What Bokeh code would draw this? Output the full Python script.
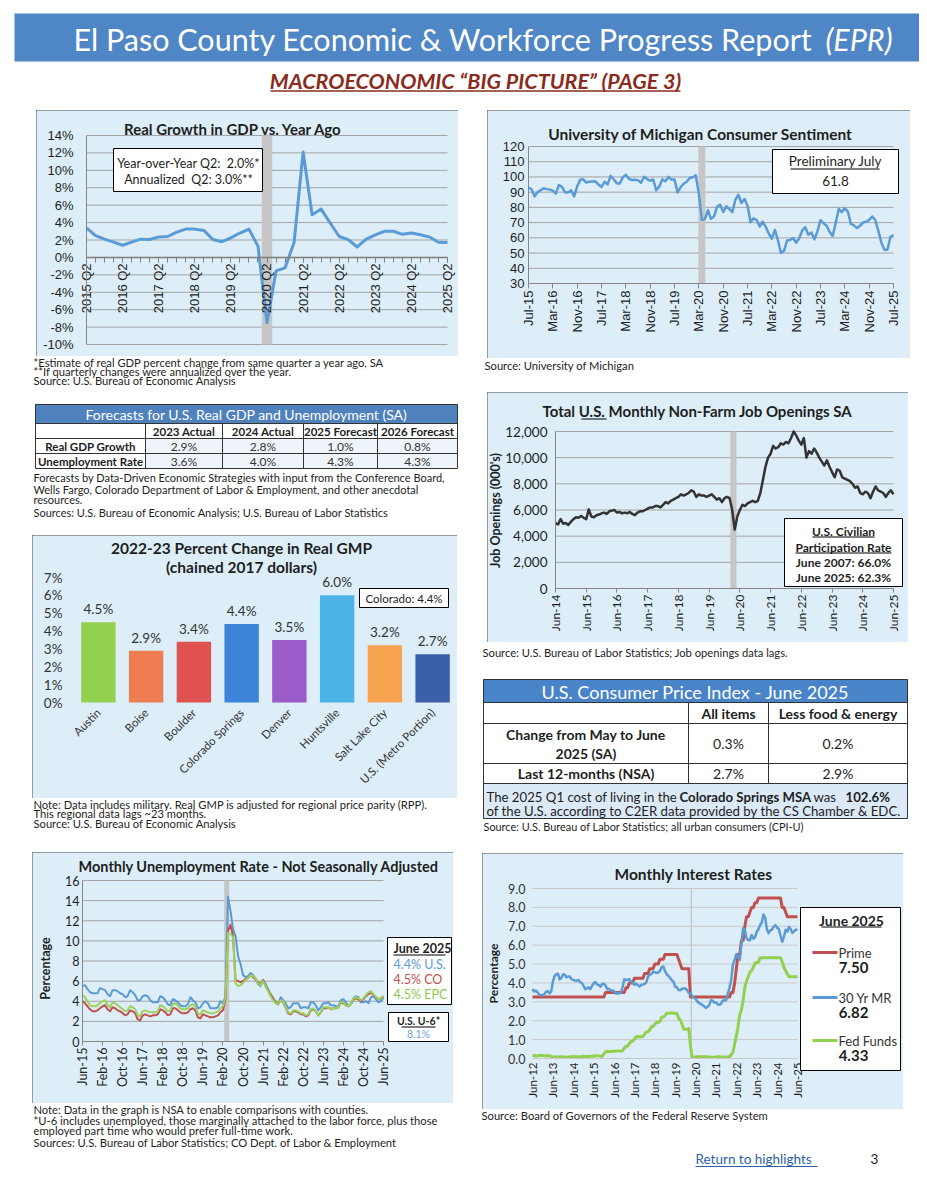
import math
from bokeh.plotting import figure
from bokeh.models import (Range1d, FixedTicker, Label, BoxAnnotation,
                          Spacer, PrintfTickFormatter, NumeralTickFormatter)
from bokeh.layouts import row, column
from bokeh.core.properties import value
from bokeh.embed import file_html
from bokeh.resources import INLINE

# ======================= DATA =======================
MON = ["Jan", "Feb", "Mar", "Apr", "May", "Jun", "Jul", "Aug", "Sep", "Oct", "Nov", "Dec"]


def month_labels(y0, m0, y1, m1):
    out = []
    y, m = y0, m0
    while (y, m) <= (y1, m1):
        out.append(f"{MON[m - 1]}-{y % 100:02d}")
        m += 1
        if m > 12:
            m, y = 1, y + 1
    return out


# --- Real GDP growth vs year ago (quarterly) ---
gdp_quarters = [f"{y} Q{q}" for y in range(2015, 2026) for q in (1, 2, 3, 4)][1:42]
gdp_yoy = [3.4, 2.5, 2.1, 1.75, 1.4, 1.75, 2.1, 2.05, 2.35, 2.4, 2.9, 3.25, 3.25, 3.1,
           2.05, 1.8, 2.25, 2.8, 3.25, 1.3, -7.5, -1.55, -1.2, 1.7, 12.1, 4.9, 5.55,
           3.95, 2.4, 2.05, 1.2, 2.1, 2.6, 3.0, 3.0, 2.65, 2.8, 2.6, 2.35, 1.75, 1.7]
gdp_tick_labels = ["2015 Q2", "2016 Q2", "2017 Q2", "2018 Q2", "2019 Q2", "2020 Q2",
                   "2021 Q2", "2022 Q2", "2023 Q2", "2024 Q2", "2025 Q2"]
gdp_y_ticks = [-10, -8, -6, -4, -2, 0, 2, 4, 6, 8, 10, 12, 14]
gdp_recession = "2020 Q2"
gdp_box_lines = ["Year-over-Year Q2:\u00a0 2.0%*", "Annualized\u00a0 Q2: 3.0%**"]
gdp_notes = ["*Estimate of real GDP percent change from same quarter a year ago, SA",
             "**If quarterly changes were annualized over the year.",
             "Source: U.S. Bureau of Economic Analysis"]

# --- University of Michigan consumer sentiment (monthly) ---
sent_months = month_labels(2015, 7, 2025, 7)
sent_vals = [93.1, 91.9, 87.2, 90.0, 91.3, 92.6,
             92.0, 91.7, 91.0, 89.0, 94.7, 93.5, 90.0, 89.8, 91.2, 87.2, 93.8, 98.2,
             98.5, 96.3, 96.9, 97.0, 97.1, 95.0, 93.4, 96.8, 95.1, 100.7, 98.5, 95.9,
             95.7, 99.7, 101.4, 98.8, 98.0, 98.2, 97.9, 96.2, 100.1, 98.6, 97.5, 98.3,
             91.2, 93.8, 98.4, 97.2, 100.0, 98.2, 98.4, 89.8, 93.2, 95.5, 96.8, 99.3,
             99.8, 101.0, 89.1, 71.8, 72.3, 78.1, 72.5, 74.1, 80.4, 81.8, 76.9, 80.7,
             79.0, 76.8, 84.9, 88.3, 82.9, 85.5, 81.2, 70.3, 72.8, 71.7, 67.4, 70.6,
             67.2, 62.8, 59.4, 65.2, 58.4, 50.0, 51.5, 58.2, 58.6, 59.9, 56.8, 59.7,
             64.9, 67.0, 62.0, 63.5, 59.0, 64.2, 71.6, 69.5, 67.9, 63.8, 61.3, 69.7,
             79.0, 76.9, 79.4, 77.2, 69.1, 68.2, 66.4, 67.9, 70.1, 70.5, 71.8, 74.0,
             71.7, 64.7, 57.0, 52.2, 52.2, 60.7, 61.8]
sent_tick_labels = ["Jul-15", "Mar-16", "Nov-16", "Jul-17", "Mar-18", "Nov-18", "Jul-19",
                    "Mar-20", "Nov-20", "Jul-21", "Mar-22", "Nov-22", "Jul-23", "Mar-24",
                    "Nov-24", "Jul-25"]
sent_y_ticks = [30, 40, 50, 60, 70, 80, 90, 100, 110, 120]
sent_recession = "Apr-20"
sent_box = ["Preliminary July", "61.8"]
sent_source = "Source: University of Michigan"

# --- Forecast table ---
fc_title = "Forecasts for U.S. Real GDP and Unemployment (SA)"
fc_cols = ["2023 Actual", "2024 Actual", "2025 Forecast", "2026 Forecast"]
fc_rows = ["Real GDP Growth", "Unemployment Rate"]
fc_gdp = ["2.9%", "2.8%", "1.0%", "0.8%"]
fc_unemp = ["3.6%", "4.0%", "4.3%", "4.3%"]
fc_notes = ["Forecasts by Data-Driven Economic Strategies with input from the Conference Board,",
            "Wells Fargo, Colorado Department of Labor & Employment, and other anecdotal",
            "resources.",
            "Sources: U.S. Bureau of Economic Analysis; U.S. Bureau of Labor Statistics"]

# --- Job openings (monthly, thousands) ---
job_months = month_labels(2014, 6, 2025, 6)
job_vals = [5000, 4900, 5300, 4950, 5000, 4850, 5100,
            5300, 5450, 5400, 5550, 5400, 5300, 6050, 5500, 5450, 5600, 5650, 5750,
            5800, 5700, 5900, 5950, 6000, 5800, 5850, 5750, 5800, 5750, 5850, 5700,
            5600, 5800, 5900, 5900, 6000, 6100, 6200, 6200, 6300, 6300, 6200, 6400,
            6600, 6500, 6700, 6800, 6900, 7000, 7200, 7100, 7200, 7300, 7500, 7400,
            7000, 7200, 7100, 7100, 7000, 7100, 7200, 7000, 6800, 6900, 6600, 6900,
            7000, 6900, 6000, 4500, 5500, 6000, 6400, 6300, 6500, 6600, 6700, 6600,
            6700, 7300, 8300, 9300, 10000, 10300, 10900, 10700, 10800, 11100, 11000, 11200,
            11100, 11500, 12000, 11700, 11300, 11000, 11500, 10000, 10500, 10300, 10700, 10400,
            10000, 9700, 9400, 9800, 9300, 8900, 8500, 9100, 9000, 8500, 8400, 8300,
            8200, 8000, 7700, 7800, 7300, 7200, 7400, 7300, 6900, 7400, 7800, 7500,
            7400, 7300, 7000, 7300, 7500, 7200]
job_tick_labels = ["Jun-14", "Jun-15", "Jun-16", "Jun-17", "Jun-18", "Jun-19", "Jun-20",
                   "Jun-21", "Jun-22", "Jun-23", "Jun-24", "Jun-25"]
job_y_ticks = [0, 2000, 4000, 6000, 8000, 10000, 12000]
job_recession = "Apr-20"
job_box = ["U.S. Civilian", "Participation Rate", "June 2007: 66.0%", "June 2025: 62.3%"]
job_source = "Source: U.S. Bureau of Labor Statistics; Job openings data lags."

# --- GMP bars ---
gmp_cities = ["Austin", "Boise", "Boulder", "Colorado Springs", "Denver", "Huntsville",
              "Salt Lake City", "U.S. (Metro Portion)"]
gmp_vals = [4.5, 2.9, 3.4, 4.4, 3.5, 6.0, 3.2, 2.7]
gmp_colors = ["#92d050", "#ee7d52", "#e0524f", "#3c84d8", "#9a5cc8", "#4bb3e6",
              "#f6a24e", "#3b5ea8"]
gmp_y_ticks = [0, 1, 2, 3, 4, 5, 6, 7]
gmp_box = "Colorado: 4.4%"
gmp_notes = ["Note: Data includes military. Real GMP is adjusted for regional price parity (RPP).",
             "This regional data lags ~23 months.",
             "Source: U.S. Bureau of Economic Analysis"]

# --- CPI table ---
cpi_title = "U.S. Consumer Price Index - June 2025"
cpi_cols = ["All items", "Less food & energy"]
cpi_rows = [["Change from May to June", "2025 (SA)"], ["Last 12-months (NSA)"]]
cpi_mom = ["0.3%", "0.2%"]
cpi_yoy = ["2.7%", "2.9%"]
cpi_note1 = ["The 2025 Q1 cost of living in the ", "Colorado Springs MSA", " was ", "102.6%"]
cpi_note2 = "of the U.S. according to C2ER data provided by the CS Chamber & EDC."
cpi_source = "Source: U.S. Bureau of Labor Statistics; all urban consumers (CPI-U)"

# --- Unemployment (monthly NSA) ---
un_months = month_labels(2015, 6, 2025, 6)
un_us = [5.5, 5.6, 5.2, 4.9, 4.8, 4.8, 4.8,
         5.3, 5.2, 5.1, 4.7, 4.5, 5.1, 5.1, 5.0, 4.8, 4.7, 4.4, 4.5,
         5.1, 4.9, 4.6, 4.1, 4.1, 4.5, 4.6, 4.5, 4.1, 3.9, 3.9, 3.9,
         4.5, 4.4, 4.1, 3.7, 3.6, 4.2, 4.1, 3.9, 3.6, 3.5, 3.5, 3.7,
         4.4, 4.1, 3.9, 3.3, 3.4, 3.8, 4.0, 3.8, 3.3, 3.3, 3.3, 3.4,
         4.0, 3.8, 4.5, 14.4, 13.0, 11.2, 10.5, 8.5, 7.7, 6.6, 6.4, 6.5,
         6.8, 6.6, 6.2, 5.7, 5.5, 6.1, 5.7, 5.2, 4.6, 4.3, 3.9, 3.7,
         4.4, 4.1, 3.8, 3.3, 3.4, 3.8, 3.8, 3.8, 3.3, 3.4, 3.4, 3.3,
         3.9, 3.9, 3.6, 3.1, 3.4, 3.8, 3.8, 3.9, 3.6, 3.6, 3.5, 3.5,
         4.1, 4.2, 3.9, 3.5, 3.7, 4.3, 4.5, 4.4, 3.9, 3.9, 4.0, 3.8,
         4.4, 4.5, 4.2, 3.9, 4.0, 4.4]
un_co = [4.0, 3.8, 3.5, 3.2, 3.0, 3.0, 3.1,
         3.3, 3.5, 3.6, 3.2, 3.0, 3.4, 3.3, 3.1, 3.0, 2.8, 2.6, 2.7,
         3.1, 3.0, 2.8, 2.2, 2.1, 2.6, 2.7, 2.6, 2.5, 2.6, 2.6, 2.7,
         3.2, 3.1, 2.9, 2.6, 2.7, 3.3, 3.3, 3.1, 2.9, 2.8, 2.8, 2.9,
         3.2, 3.3, 3.1, 2.4, 2.3, 2.7, 2.6, 2.5, 2.4, 2.4, 2.5, 2.6,
         2.9, 3.1, 4.2, 11.0, 11.6, 10.5, 6.1, 6.0, 5.9, 6.0, 6.2, 6.3,
         6.6, 6.4, 6.2, 5.9, 5.7, 6.1, 5.5, 5.1, 4.7, 4.3, 3.9, 3.7,
         4.1, 3.9, 3.4, 2.8, 2.7, 3.0, 3.0, 2.9, 2.7, 2.7, 2.5, 2.6,
         3.1, 3.2, 3.0, 2.6, 2.9, 3.3, 3.3, 3.4, 3.2, 3.3, 3.3, 3.4,
         3.9, 3.8, 3.6, 3.5, 3.7, 4.2, 4.3, 4.2, 4.0, 4.2, 4.5, 4.7,
         4.9, 4.6, 4.4, 4.2, 4.3, 4.5]
un_epc = [4.6, 4.4, 4.0, 3.6, 3.5, 3.5, 3.6,
          3.8, 4.0, 4.1, 3.6, 3.4, 3.9, 3.8, 3.6, 3.4, 3.2, 3.0, 3.1,
          3.5, 3.4, 3.2, 2.6, 2.5, 3.0, 3.1, 3.0, 2.9, 2.9, 2.9, 3.0,
          3.6, 3.5, 3.3, 3.0, 3.1, 3.7, 3.8, 3.6, 3.3, 3.2, 3.2, 3.3,
          3.6, 3.7, 3.5, 2.8, 2.7, 3.1, 3.0, 2.9, 2.8, 2.8, 2.9, 3.0,
          3.3, 3.5, 4.4, 10.8, 10.7, 10.4, 5.8, 5.5, 5.6, 5.8, 6.1, 6.3,
          6.6, 6.5, 6.3, 5.8, 5.6, 6.0, 5.5, 5.0, 4.5, 4.1, 3.8, 3.7,
          4.1, 4.0, 3.5, 2.9, 2.8, 3.1, 3.1, 3.0, 2.8, 2.8, 2.6, 2.7,
          3.2, 3.3, 3.0, 2.6, 2.9, 3.4, 3.4, 3.4, 3.2, 3.3, 3.3, 3.4,
          3.9, 3.9, 3.6, 3.5, 3.7, 4.3, 4.4, 4.3, 4.1, 4.3, 4.6, 4.9,
          5.0, 4.7, 4.4, 4.2, 4.3, 4.5]
un_tick_labels = ["Jun-15", "Feb-16", "Oct-16", "Jun-17", "Feb-18", "Oct-18", "Jun-19",
                  "Feb-20", "Oct-20", "Jun-21", "Feb-22", "Oct-22", "Jun-23", "Feb-24",
                  "Oct-24", "Jun-25"]
un_y_ticks = [0, 2, 4, 6, 8, 10, 12, 14, 16]
un_recession = "Apr-20"
un_legend = ["June 2025", "4.4% U.S.", "4.5% CO", "4.5% EPC"]
un_u6 = ["U.S. U-6*", "8.1%"]
un_notes = ["Note: Data in the graph is NSA to enable comparisons with counties.",
            "*U-6 includes unemployed, those marginally attached to the labor force, plus those",
            "employed part time who would prefer full-time work.",
            "Sources: U.S. Bureau of Labor Statistics; CO Dept. of Labor & Employment"]

# --- Interest rates (monthly) ---
rate_months = month_labels(2012, 6, 2025, 6)
rate_prime = ([3.25] * 7 + [3.25] * 12 + [3.25] * 12 + [3.25] * 12 + [3.50] * 12 +
              [3.75, 3.75, 4.00, 4.00, 4.00, 4.25, 4.25, 4.25, 4.25, 4.25, 4.25, 4.50] +
              [4.50, 4.50, 4.75, 4.75, 4.75, 5.00, 5.00, 5.00, 5.25, 5.25, 5.25, 5.50] +
              [5.50, 5.50, 5.50, 5.50, 5.50, 5.50, 5.50, 5.25, 5.00, 4.75, 4.75, 4.75] +
              [4.75, 4.75, 3.25, 3.25, 3.25, 3.25, 3.25, 3.25, 3.25, 3.25, 3.25, 3.25] +
              [3.25] * 12 +
              [3.25, 3.25, 3.50, 3.50, 4.00, 4.75, 5.50, 5.50, 6.25, 6.25, 7.00, 7.50] +
              [7.50, 7.75, 8.00, 8.00, 8.25, 8.25, 8.50, 8.50, 8.50, 8.50, 8.50, 8.50] +
              [8.50, 8.50, 8.50, 8.50, 8.50, 8.50, 8.50, 8.50, 8.00, 8.00, 7.75, 7.50] +
              [7.50] * 6)
rate_mort = [3.68, 3.55, 3.60, 3.50, 3.38, 3.35, 3.35,
             3.41, 3.53, 3.57, 3.45, 3.54, 4.07, 4.37, 4.46, 4.49, 4.19, 4.26, 4.46,
             4.43, 4.30, 4.34, 4.34, 4.19, 4.16, 4.13, 4.12, 4.16, 4.04, 4.00, 3.86,
             3.67, 3.71, 3.77, 3.67, 3.84, 3.98, 4.05, 3.91, 3.89, 3.80, 3.94, 3.96,
             3.87, 3.66, 3.69, 3.61, 3.60, 3.57, 3.44, 3.44, 3.46, 3.47, 3.77, 4.20,
             4.15, 4.17, 4.20, 4.05, 4.01, 3.90, 3.97, 3.88, 3.81, 3.90, 3.92, 3.95,
             4.03, 4.33, 4.44, 4.47, 4.59, 4.57, 4.53, 4.55, 4.63, 4.83, 4.87, 4.64,
             4.46, 4.37, 4.27, 4.14, 4.07, 3.80, 3.77, 3.62, 3.61, 3.69, 3.70, 3.72,
             3.62, 3.47, 3.45, 3.31, 3.23, 3.16, 3.02, 2.94, 2.89, 2.83, 2.77, 2.68,
             2.74, 2.81, 3.08, 3.06, 2.96, 2.98, 2.87, 2.84, 2.90, 3.07, 3.07, 3.10,
             3.45, 3.76, 4.17, 4.98, 5.23, 5.52, 5.41, 5.22, 6.11, 6.90, 6.81, 6.36,
             6.27, 6.26, 6.54, 6.34, 6.43, 6.71, 6.84, 7.07, 7.20, 7.62, 7.44, 6.82,
             6.64, 6.78, 6.82, 6.99, 7.06, 6.92, 6.85, 6.50, 6.18, 6.43, 6.81, 6.72,
             6.96, 6.84, 6.65, 6.73, 6.82, 6.82]
rate_fed = [0.16, 0.16, 0.13, 0.14, 0.16, 0.16, 0.16,
            0.14, 0.15, 0.14, 0.15, 0.11, 0.09, 0.09, 0.08, 0.08, 0.09, 0.08, 0.09,
            0.07, 0.07, 0.08, 0.09, 0.09, 0.10, 0.09, 0.09, 0.09, 0.09, 0.09, 0.12,
            0.11, 0.11, 0.11, 0.12, 0.12, 0.13, 0.13, 0.14, 0.14, 0.12, 0.12, 0.24,
            0.34, 0.38, 0.36, 0.37, 0.37, 0.38, 0.39, 0.40, 0.40, 0.40, 0.41, 0.54,
            0.65, 0.66, 0.79, 0.90, 0.91, 1.04, 1.15, 1.16, 1.15, 1.15, 1.16, 1.30,
            1.41, 1.42, 1.51, 1.69, 1.70, 1.82, 1.91, 1.91, 1.95, 2.19, 2.20, 2.27,
            2.40, 2.40, 2.41, 2.42, 2.39, 2.38, 2.40, 2.13, 2.04, 1.83, 1.55, 1.55,
            1.55, 1.58, 0.65, 0.05, 0.05, 0.08, 0.09, 0.10, 0.09, 0.09, 0.09, 0.09,
            0.09, 0.08, 0.07, 0.07, 0.06, 0.08, 0.10, 0.09, 0.08, 0.08, 0.08, 0.08,
            0.08, 0.08, 0.20, 0.33, 0.77, 1.21, 1.68, 2.33, 2.56, 3.08, 3.78, 4.10,
            4.33, 4.57, 4.65, 4.83, 5.06, 5.08, 5.12, 5.33, 5.33, 5.33, 5.33, 5.33,
            5.33, 5.33, 5.33, 5.33, 5.33, 5.33, 5.33, 5.33, 5.13, 4.83, 4.64, 4.48,
            4.33, 4.33, 4.33, 4.33, 4.33, 4.33]
rate_tick_labels = ["Jun-12", "Jun-13", "Jun-14", "Jun-15", "Jun-16", "Jun-17", "Jun-18",
                    "Jun-19", "Jun-20", "Jun-21", "Jun-22", "Jun-23", "Jun-24", "Jun-25"]
rate_y_ticks = [0, 1, 2, 3, 4, 5, 6, 7, 8, 9]
rate_recession = "Apr-20"
rate_legend_names = ["Prime", "30 Yr MR", "Fed Funds"]
rate_legend_vals = ["7.50", "6.82", "4.33"]
rate_source = "Source: Board of Governors of the Federal Reserve System"

page_title = "El Paso County Economic & Workforce Progress Report"
page_title_it = "(EPR)"
page_subtitle = "MACROECONOMIC \u201cBIG PICTURE\u201d (PAGE 3)"
footer_link = "Return to highlights"
footer_page = "3"

# ======================= STYLE =======================
CAL = "Lato"
ARI = "Liberation Sans"
BG = "#ddeef8"
GRID = "#a3a3a3"
AX = "#868686"
TXT = "#1e1e1e"
BLUE_LINE = "#5b9bd5"
RED_LINE = "#c0504d"
GREEN_LINE = "#92d050"
REC = "#c6c6c6"
NOTE = 11.2


def deco(x0, y0, w, h):
    f = figure(width=w, height=h, x_range=Range1d(x0, x0 + w), y_range=Range1d(y0 + h, y0),
               x_axis_location=None, y_axis_location=None, title=None,
               toolbar_location=None, output_backend="svg", min_border=0)
    f.grid.visible = False
    f.outline_line_color = None
    f.background_fill_color = "white"
    f.border_fill_color = "white"
    return f


def dtext(f, x, y, s, size, style="normal", color=TXT, align="left", font=CAL,
          baseline="middle", angle=0, **kw):
    f.text(x=[x], y=[y], text=[s], text_font=value(font), text_font_size=f"{size}px",
           text_font_style=style, text_color=color, text_align=align,
           text_baseline=baseline, angle=angle, **kw)


def dline(f, x0, y0, x1, y1, color="#333333", width=1, **kw):
    f.segment(x0=[x0], y0=[y0], x1=[x1], y1=[y1], line_color=color, line_width=width, **kw)


def chart(box, area, xd, yd):
    """Figure covering the whole light-blue box; the data extent xd/yd is mapped onto
    the pixel rectangle `area`; both axes are pinned at the data origin."""
    bl, bt, br, bb = box
    fl, ft, fr, fb = area
    x0, x1 = xd
    y0, y1 = yd
    kx = (x1 - x0) / (fr - fl)
    ky = (y1 - y0) / (fb - ft)
    xr = Range1d(x0 - (fl - bl) * kx, x1 + (br - fr) * kx)
    yr = Range1d(y0 - (bb - fb) * ky, y1 + (ft - bt) * ky)
    p = figure(width=br - bl, height=bb - bt, x_range=xr, y_range=yr, title=None,
               toolbar_location=None, output_backend="svg", min_border=0)
    p.extra_x_ranges = {"px": Range1d(bl, br)}
    p.extra_y_ranges = {"py": Range1d(bb, bt)}
    p.background_fill_color = BG
    p.border_fill_color = BG
    p.outline_line_color = None
    p.styles = {"outline": "1px solid #4a4a4a", "outline-offset": "-1px"}
    p.grid.visible = False
    p.xaxis.fixed_location = y0
    p.yaxis.fixed_location = x0
    p.xaxis.bounds = (x0, x1)
    p.yaxis.bounds = (y0, y1)
    return p


def hgrid(p, ticks, x0, x1, color=GRID, width=1):
    p.segment(x0=[x0] * len(ticks), x1=[x1] * len(ticks), y0=ticks, y1=ticks,
              line_color=color, line_width=width)


def axstyle(ax, font, size, color=TXT, tick_out=0, standoff=4, line=AX, orient=None):
    ax.major_label_text_font = font
    ax.major_label_text_font_size = f"{size}px"
    ax.major_label_text_color = color
    ax.major_tick_in = 0
    ax.major_tick_out = tick_out
    ax.minor_tick_line_color = None
    ax.major_label_standoff = standoff
    ax.axis_line_color = line
    ax.major_tick_line_color = line
    if orient is not None:
        ax.major_label_orientation = orient


def plabel(p, x, y, s, size, style="normal", color=TXT, align="center",
           baseline="middle", angle=0, font=CAL):
    p.add_layout(Label(x=x, y=y, text=s, x_range_name="px", y_range_name="py",
                       text_font=font, text_font_size=f"{size}px", text_font_style=style,
                       text_color=color, text_align=align, text_baseline=baseline,
                       angle=angle))


def pbox(p, l, t, r, b, fill="white", line="black", lw=1):
    p.add_layout(BoxAnnotation(left=l, right=r, top=t, bottom=b, x_range_name="px",
                               y_range_name="py", fill_color=fill, fill_alpha=1.0,
                               line_color=line, line_width=lw, line_alpha=1.0))


PX = dict(x_range_name="px", y_range_name="py")

# ======================= HEADER =======================
hdr = deco(8, 8, 911, 102)
hdr.quad(left=[14], right=[921], top=[13], bottom=[61], fill_color="#4f86c6", line_color=None)
dtext(hdr, 73, 38.5, page_title, 30.5, color="white")
dtext(hdr, 892, 38.5, page_title_it, 30.5, style="italic", color="white", align="right")
dtext(hdr, 475, 80, page_subtitle, 21.5, style="bold italic", color="#8a2b1c", align="center")
dline(hdr, 270, 90.5, 680, 90.5, color="#8a2b1c", width=1.5)

# ======================= GDP CHART =======================
gx = list(range(len(gdp_yoy)))
g = chart((36, 110, 458, 356), (86, 135, 447, 344), (gx[0], gx[-1]),
          (gdp_y_ticks[0], gdp_y_ticks[-1]))
g.xaxis.fixed_location = 0
gtx = [gdp_quarters.index(l) for l in gdp_tick_labels]
g.xaxis.ticker = FixedTicker(ticks=gtx, minor_ticks=gx)
g.xaxis.major_label_overrides = {t: l for t, l in zip(gtx, gdp_tick_labels)}
axstyle(g.xaxis[0], ARI, 13, tick_out=5, standoff=1, line="#7f7f7f", orient=math.pi / 2)
g.xaxis.minor_tick_line_color = "#7f7f7f"
g.xaxis.minor_tick_out = 5
g.xaxis.minor_tick_in = 0
g.xaxis.axis_line_width = 1.5
g.yaxis.ticker = FixedTicker(ticks=gdp_y_ticks)
g.yaxis.formatter = PrintfTickFormatter(format="%d%%")
axstyle(g.yaxis[0], ARI, 13, tick_out=0, standoff=13)
hgrid(g, gdp_y_ticks, gx[0], gx[-1])
rq = gdp_quarters.index(gdp_recession)
g.vbar(x=[rq], width=1.15, top=gdp_y_ticks[-1], bottom=gdp_y_ticks[0], fill_color=REC,
       line_color=None)
g.line(gx, gdp_yoy, line_color=BLUE_LINE, line_width=3, line_join="round")
g.quad(left=[113], right=[262], top=[148], bottom=[191], fill_color="white",
       line_color="black", line_width=1, **PX)
g.text(x=[188, 188], y=[163, 179], text=gdp_box_lines, text_font=value(CAL),
       text_font_size="12.5px", text_align="center", text_baseline="middle",
       text_color=TXT, **PX)
plabel(g, 233, 128, "Real Growth in GDP vs. Year Ago", 15, "bold")

# ======================= SENTIMENT =======================
sx = list(range(len(sent_vals)))
s = chart((487, 110, 910, 358), (528, 146, 893, 283), (sx[0], sx[-1]),
          (sent_y_ticks[0], sent_y_ticks[-1]))
stx = [sent_months.index(l) for l in sent_tick_labels]
s.xaxis.ticker = FixedTicker(ticks=stx)
s.xaxis.major_label_overrides = {t: l for t, l in zip(stx, sent_tick_labels)}
axstyle(s.xaxis[0], ARI, 13, tick_out=5, standoff=2, orient=math.pi / 2)
s.yaxis.ticker = FixedTicker(ticks=sent_y_ticks)
axstyle(s.yaxis[0], ARI, 13, tick_out=0, standoff=4)
hgrid(s, sent_y_ticks, sx[0], sx[-1])
s.vbar(x=[sent_months.index(sent_recession)], width=2.3, top=sent_y_ticks[-1],
       bottom=sent_y_ticks[0], fill_color=REC, line_color=None)
s.line(sx, sent_vals, line_color=BLUE_LINE, line_width=2.5, line_join="round")
pbox(s, 772, 149, 898, 193)
plabel(s, 835, 160, sent_box[0], 13.5)
pbox(s, 790, 168, 879, 169, fill="black", line=None)
plabel(s, 835, 180, sent_box[1], 13.5)
plabel(s, 700, 133, "University of Michigan Consumer Sentiment", 15.5, "bold")

# ======================= JOB OPENINGS =======================
jx = list(range(len(job_vals)))
j = chart((487, 392, 908, 642), (555, 431, 893, 588), (jx[0], jx[-1]),
          (job_y_ticks[0], job_y_ticks[-1]))
jtx = [job_months.index(l) for l in job_tick_labels]
j.xaxis.ticker = FixedTicker(ticks=jtx)
j.xaxis.major_label_overrides = {t: l for t, l in zip(jtx, job_tick_labels)}
axstyle(j.xaxis[0], CAL, 12, tick_out=4, standoff=2, orient=math.pi / 2)
j.yaxis.ticker = FixedTicker(ticks=job_y_ticks)
j.yaxis.formatter = NumeralTickFormatter(format="0,0")
axstyle(j.yaxis[0], CAL, 13.5, tick_out=0, standoff=8)
hgrid(j, job_y_ticks, jx[0], jx[-1])
j.vbar(x=[job_months.index(job_recession) - 0.5], width=2.4, top=job_y_ticks[-1],
       bottom=job_y_ticks[0], fill_color=REC, line_color=None)
j.line(jx, job_vals, line_color="#333333", line_width=2.5, line_join="round")
pbox(j, 784, 518, 902, 586)
plabel(j, 843, 531, job_box[0], 12, "bold")
pbox(j, 812, 536, 874, 537, fill="black", line=None)
plabel(j, 843, 547, job_box[1], 12, "bold")
pbox(j, 795, 552, 891, 553, fill="black", line=None)
plabel(j, 843, 562, job_box[2], 12, "bold")
plabel(j, 843, 577, job_box[3], 12, "bold")
plabel(j, 697, 410, "Total U.S. Monthly Non-Farm Job Openings SA", 15, "bold")
pbox(j, 581, 418, 606, 419, fill="black", line=None)
plabel(j, 495, 510, "Job Openings (000's)", 12.5, "bold", angle=math.pi / 2)

# ======================= GMP BARS =======================
gmp_x = list(range(1, len(gmp_cities) + 1))
m = chart((32, 535, 457, 798), (74, 577, 456, 702), (0.5, len(gmp_cities) + 0.5),
          (gmp_y_ticks[0], gmp_y_ticks[-1]))
m.yaxis.ticker = FixedTicker(ticks=gmp_y_ticks)
m.yaxis.formatter = PrintfTickFormatter(format="%d%%")
axstyle(m.yaxis[0], CAL, 13.5, color="#333333", tick_out=0, standoff=12, line=None)
m.xaxis.ticker = FixedTicker(ticks=gmp_x)
m.xaxis.major_label_overrides = {t: c for t, c in zip(gmp_x, gmp_cities)}
axstyle(m.xaxis[0], CAL, 11.5, color="#333333", tick_out=0, standoff=8, line=None,
        orient=math.pi / 4)
m.vbar(x=gmp_x, top=gmp_vals, width=0.72, fill_color=gmp_colors, line_color=None)
m.text(x=gmp_x, y=gmp_vals, text=[f"{v:.1f}%" for v in gmp_vals], y_offset=-5,
       text_align="center", text_baseline="bottom", text_font=value(CAL),
       text_font_size="13.5px", text_color="#333333")
m.quad(left=[359], right=[448], top=[588], bottom=[607], fill_color="white",
       line_color="black", line_width=1, **PX)
m.text(x=[403.5], y=[597.5], text=[gmp_box], text_font=value(CAL), text_font_size="11.5px",
       text_align="center", text_baseline="middle", text_color=TXT, **PX)
plabel(m, 241, 547, "2022-23 Percent Change in Real GMP", 15.5, "bold")
plabel(m, 241, 566, "(chained 2017 dollars)", 15.5, "bold")

# ======================= UNEMPLOYMENT =======================
ux = list(range(len(un_us)))
u = chart((32, 852, 453, 1103), (82, 880, 383, 1041), (ux[0], ux[-1]),
          (un_y_ticks[0], un_y_ticks[-1]))
utx = [un_months.index(l) for l in un_tick_labels]
u.xaxis.ticker = FixedTicker(ticks=utx)
u.xaxis.major_label_overrides = {t: l for t, l in zip(utx, un_tick_labels)}
axstyle(u.xaxis[0], CAL, 12.5, tick_out=4, standoff=2, orient=math.pi / 2)
u.yaxis.ticker = FixedTicker(ticks=un_y_ticks)
axstyle(u.yaxis[0], CAL, 12.5, tick_out=0, standoff=3)
hgrid(u, un_y_ticks, ux[0], ux[-1])
u.vbar(x=[un_months.index(un_recession) - 0.5], width=2, top=un_y_ticks[-1],
       bottom=un_y_ticks[0], fill_color=REC, line_color=None)
u.line(ux, un_us, line_color=BLUE_LINE, line_width=2, line_join="round")
u.line(ux, un_co, line_color=RED_LINE, line_width=2, line_join="round")
u.line(ux, un_epc, line_color="#9ad35c", line_width=2, line_join="round")
pbox(u, 387, 937, 451, 1004)
plabel(u, 393, 948, un_legend[0], 12.5, "bold", align="left")
pbox(u, 393, 954, 445, 955, fill="black", line=None)
plabel(u, 393, 964, un_legend[1], 12.5, color=BLUE_LINE, align="left")
plabel(u, 393, 979, un_legend[2], 12.5, color=RED_LINE, align="left")
plabel(u, 393, 994, un_legend[3], 12.5, color="#8cc84b", align="left")
pbox(u, 388, 1012, 448, 1041)
plabel(u, 418, 1020, un_u6[0], 10.5, "bold")
pbox(u, 401, 1026, 435, 1027, fill="black", line=None)
plabel(u, 418, 1033, un_u6[1], 10.5, color="#6f9fd8")
plabel(u, 78, 866, "Monthly Unemployment Rate - Not Seasonally Adjusted", 14.5, "bold",
       align="left")
plabel(u, 45, 968, "Percentage", 12.5, "bold", angle=math.pi / 2)

# ======================= INTEREST RATES =======================
rx = list(range(len(rate_prime)))
r = chart((482, 853, 903, 1109), (532, 888, 797, 1058), (rx[0], rx[-1]),
          (rate_y_ticks[0], rate_y_ticks[-1]))
rtx = [rate_months.index(l) for l in rate_tick_labels]
r.xaxis.ticker = FixedTicker(ticks=rtx)
r.xaxis.major_label_overrides = {t: l for t, l in zip(rtx, rate_tick_labels)}
axstyle(r.xaxis[0], CAL, 11.5, tick_out=0, standoff=4, line="#c8c8c8", orient=math.pi / 2)
r.yaxis.ticker = FixedTicker(ticks=rate_y_ticks)
r.yaxis.formatter = PrintfTickFormatter(format="%.1f")
axstyle(r.yaxis[0], CAL, 12.5, color="#333333", tick_out=0, standoff=7, line=None)
hgrid(r, rate_y_ticks, rx[0], rx[-1], color="#c8c8c8")
r.vbar(x=[rate_months.index(rate_recession) - 0.5], width=0.7, top=rate_y_ticks[-1],
       bottom=rate_y_ticks[0], fill_color="#c2c2c2", line_color=None)
r.line(rx, rate_prime, line_color=RED_LINE, line_width=3, line_join="round")
r.line(rx, rate_mort, line_color=BLUE_LINE, line_width=2.5, line_join="round")
r.line(rx, rate_fed, line_color=GREEN_LINE, line_width=3, line_join="round")
pbox(r, 800, 907, 900, 1070)
plabel(r, 851, 920, "June 2025", 14, "bold")
pbox(r, 821, 926, 881, 927, fill="black", line=None)
for name, val, col, yy in zip(rate_legend_names, rate_legend_vals,
                              [RED_LINE, BLUE_LINE, GREEN_LINE], [952, 997, 1040]):
    pbox(r, 812, yy - 1.5, 837, yy + 1.5, fill=col, line=None)
    plabel(r, 838, yy, name, 13, color="#333333", align="left")
    plabel(r, 853, yy + 14.5, val, 15, "bold")
plabel(r, 693, 873, "Monthly Interest Rates", 15.5, "bold")
plabel(r, 493, 973, "Percentage", 12, "bold", angle=math.pi / 2)

# ======================= DECORATION PANELS =======================
L1 = deco(8, 356, 462, 179)
for yy, t in zip([362, 371, 380], gdp_notes):
    dtext(L1, 33, yy, t, NOTE)
fx = [35, 145, 222, 303, 377, 457]
fy = [404, 423, 438, 453, 468]
L1.quad(left=[fx[0]], right=[fx[-1]], top=[fy[0]], bottom=[fy[1]], fill_color="#4f81bd",
        line_color=None)
L1.quad(left=fx[1:-1], right=fx[2:], top=[fy[2]] * 4, bottom=[fy[4]] * 4,
        fill_color="#eef4fa", line_color=None)
dtext(L1, (fx[0] + fx[-1]) / 2, (fy[0] + fy[1]) / 2, fc_title, 14, color="white",
      align="center")
for yy in fy[1:]:
    dline(L1, fx[0], yy, fx[-1], yy)
dline(L1, fx[0], fy[0], fx[-1], fy[0])
for xx in fx:
    dline(L1, xx, fy[1] if xx not in (fx[0], fx[-1]) else fy[0], xx, fy[-1])
for i, c in enumerate(fc_cols):
    dtext(L1, (fx[i + 1] + fx[i + 2]) / 2, (fy[1] + fy[2]) / 2, c, 11.5, "bold",
          align="center")
for rr, (lab, vals) in enumerate(zip(fc_rows, [fc_gdp, fc_unemp])):
    yy = (fy[2 + rr] + fy[3 + rr]) / 2
    dtext(L1, (fx[0] + fx[1]) / 2, yy, lab, 11.5, "bold", align="center")
    for i, v in enumerate(vals):
        dtext(L1, (fx[i + 1] + fx[i + 2]) / 2, yy, v, 12, align="center", color="#333333")
for yy, t in zip([477, 489, 498.5, 511.5], fc_notes):
    dtext(L1, 33, yy, t, 11)

L2 = deco(8, 798, 462, 54)
for yy, t in zip([803.5, 813, 823], gmp_notes):
    dtext(L2, 33, yy, t, NOTE)

L3 = deco(8, 1103, 462, 47)
for yy, t in zip([1108.5, 1120, 1130, 1141.5], un_notes):
    dtext(L3, 33, yy, t, NOTE)

R1 = deco(470, 358, 449, 34)
dtext(R1, 484, 365, sent_source, NOTE)

R2 = deco(470, 642, 449, 211)
dtext(R2, 482, 652, job_source, NOTE)
cx = [483, 688, 768, 907]
cy = [679, 702, 723, 763, 783, 818]
R2.quad(left=[cx[0]], right=[cx[-1]], top=[cy[0]], bottom=[cy[1]], fill_color="#4a84c8",
        line_color=None)
R2.quad(left=[cx[0]], right=[cx[-1]], top=[cy[4]], bottom=[cy[5]], fill_color="#dce9f6",
        line_color=None)
for yy in cy:
    dline(R2, cx[0], yy, cx[-1], yy)
dline(R2, cx[0], cy[0], cx[0], cy[-1])
dline(R2, cx[-1], cy[0], cx[-1], cy[-1])
for xx in cx[1:-1]:
    dline(R2, xx, cy[1], xx, cy[4])
dtext(R2, (cx[0] + cx[-1]) / 2, (cy[0] + cy[1]) / 2 + 0.5, cpi_title, 18, color="white",
      align="center")
for i, c in enumerate(cpi_cols):
    dtext(R2, (cx[i + 1] + cx[i + 2]) / 2, (cy[1] + cy[2]) / 2, c, 14, "bold", align="center")
dtext(R2, (cx[0] + cx[1]) / 2, 734, cpi_rows[0][0], 14, "bold", align="center")
dtext(R2, (cx[0] + cx[1]) / 2, 753, cpi_rows[0][1], 14, "bold", align="center")
dtext(R2, (cx[0] + cx[1]) / 2, (cy[3] + cy[4]) / 2, cpi_rows[1][0], 14, "bold", align="center")
for i in range(2):
    dtext(R2, (cx[i + 1] + cx[i + 2]) / 2, (cy[2] + cy[3]) / 2, cpi_mom[i], 14, align="center")
    dtext(R2, (cx[i + 1] + cx[i + 2]) / 2, (cy[3] + cy[4]) / 2, cpi_yoy[i], 14, align="center")
for xx, t, st in zip([486, 679, 813, 845], cpi_note1, ["normal", "bold", "normal", "bold"]):
    dtext(R2, xx, 796, t, 13.2, st)
dtext(R2, 486, 810, cpi_note2, 13.2)
dtext(R2, 483, 826, cpi_source, 10.9)

R3 = deco(470, 1109, 449, 41)
dtext(R3, 481, 1115, rate_source, NOTE)

FT = deco(8, 1150, 911, 42)
dtext(FT, 695, 1158, footer_link, 13.5, color="#2f5fa8")
dline(FT, 695, 1166, 817, 1166, color="#2f5fa8")
dtext(FT, 870, 1158, footer_page, 13.5)

# ======================= LAYOUT =======================
def place(fig, col_w, left):
    return row(Spacer(width=left, height=fig.height), fig,
               Spacer(width=col_w - left - fig.width, height=fig.height))


left_col = column(place(g, 462, 28), L1, place(m, 462, 24), L2, place(u, 462, 24), L3)
right_col = column(place(s, 449, 17), R1, place(j, 449, 17), R2, place(r, 449, 12), R3)
page = column(hdr, row(left_col, right_col), FT)
# the page template has no body margin, so reproduce the 8px offset explicitly
outer = column(Spacer(width=919, height=8), row(Spacer(width=8, height=1184), page))

open("out.html", "w").write(file_html(outer, INLINE, title="EPR Page 3"))
